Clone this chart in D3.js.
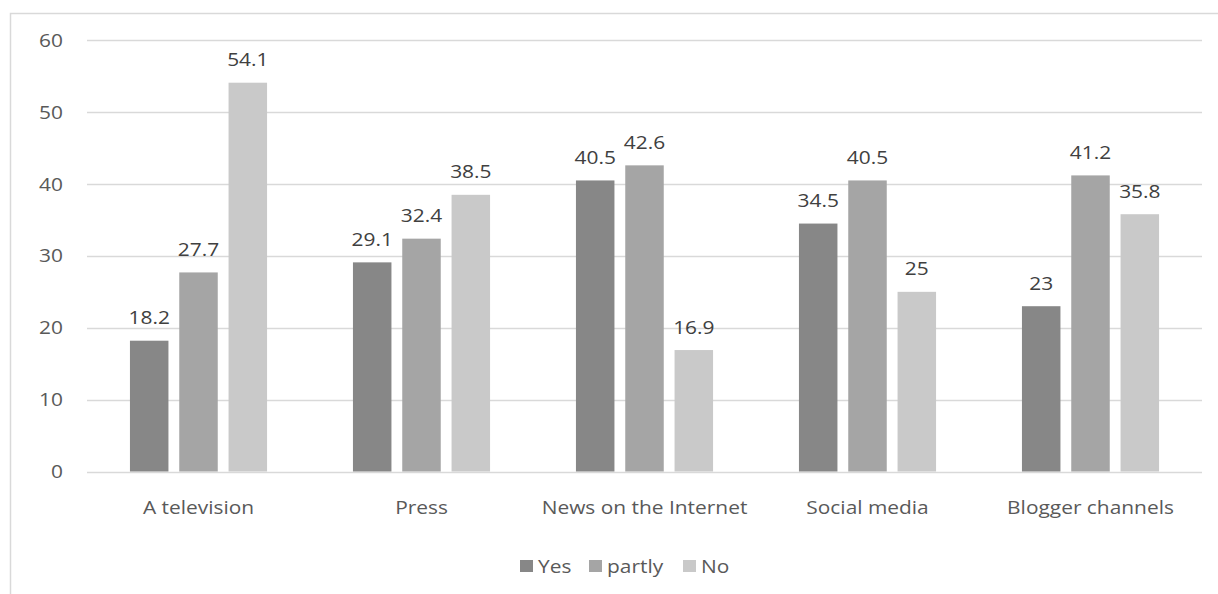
<!DOCTYPE html>
<html>
<head>
<meta charset="utf-8">
<script src="https://cdn.jsdelivr.net/npm/d3@7"></script>
<style>
  html, body { margin: 0; padding: 0; background: #fff; }
  svg { display: block; }
  text { font-family: "Open Sans", "Noto Sans", sans-serif; font-size: 19px; }
</style>
</head>
<body>
<svg id="chart" width="1218" height="594"></svg>
<script>
// Survey answers by information source
const categories = ["A television", "Press", "News on the Internet", "Social media", "Blogger channels"];
const seriesNames = ["Yes", "partly", "No"];
const yesValues = [18.2, 29.1, 40.5, 34.5, 23];
const partlyValues = [27.7, 32.4, 42.6, 40.5, 41.2];
const noValues = [54.1, 38.5, 16.9, 25, 35.8];
const yTicks = [0, 10, 20, 30, 40, 50, 60];
const seriesColors = ["#878787", "#a5a5a5", "#c9c9c9"];

const seriesValues = [yesValues, partlyValues, noValues];
const WIDEN = 1.1; // slightly wider lettering

const svg = d3.select("#chart");

// outer chart frame
svg.append("rect")
  .attr("x", 10.5).attr("y", 13.5)
  .attr("width", 1240).attr("height", 620)
  .attr("fill", "none").attr("stroke", "#d9d9d9").attr("stroke-width", 1.5);

const plot = { left: 87, right: 1202, top: 40.3, bottom: 471.5 };

const x = d3.scaleBand().domain(categories).range([plot.left, plot.right]);
const y = d3.scaleLinear().domain([0, 60]).range([plot.bottom, plot.top]);

// gridlines
svg.append("g").selectAll("line").data(yTicks).join("line")
  .attr("x1", plot.left).attr("x2", plot.right)
  .attr("y1", d => Math.round(y(d)) + 0.5).attr("y2", d => Math.round(y(d)) + 0.5)
  .attr("stroke", "#d9d9d9").attr("stroke-width", 1.3);

// y axis labels
const yAxis = d3.axisLeft(y).tickValues(yTicks).tickSize(0).tickPadding(0);
const yg = svg.append("g").attr("transform", `translate(${plot.left - 24},0)`).call(yAxis);
yg.select(".domain").remove();
yg.selectAll("text")
  .attr("font-size", 19).attr("fill", "#595959")
  .attr("font-family", "'Open Sans', sans-serif")
  .attr("transform", `scale(${WIDEN},1)`);

// x axis labels
const xAxis = d3.axisBottom(x).tickSize(0).tickPadding(0);
const xg = svg.append("g").attr("transform", `translate(0,${plot.bottom + 29})`).call(xAxis);
xg.select(".domain").remove();
xg.selectAll("text")
  .attr("font-size", 19).attr("fill", "#595959")
  .attr("font-family", "'Open Sans', sans-serif")
  .attr("transform", `scale(${WIDEN},1)`);

// bars within each category
const barW = 38.5, gap = 10.8;
const inner = d3.scaleBand().domain(seriesNames)
  .range([-(barW * 1.5 + gap), barW * 1.5 + gap]).paddingInner(gap / (barW + gap));

const groups = svg.append("g").selectAll("g").data(seriesNames).join("g")
  .attr("fill", (d, i) => seriesColors[i]);

groups.each(function (name, si) {
  const g = d3.select(this);
  const vals = seriesValues[si];
  const left = c => x(c) + x.bandwidth() / 2 + inner(name);
  g.selectAll("rect").data(categories).join("rect")
    .attr("x", c => left(c))
    .attr("width", inner.bandwidth())
    .attr("y", (c, i) => y(vals[i]))
    .attr("height", (c, i) => y(0) - y(vals[i]));
  g.selectAll("text").data(categories).join("text")
    .attr("transform", (c, i) =>
      `translate(${left(c) + inner.bandwidth() / 2},${y(vals[i]) - 16.5}) scale(${WIDEN},1)`)
    .attr("text-anchor", "middle")
    .attr("fill", "#404040")
    .text((c, i) => vals[i]);
});

// legend
const legendItems = [
  { name: "Yes", x: 520 },
  { name: "partly", x: 589 },
  { name: "No", x: 683 }
];
const lg = svg.append("g").selectAll("g").data(legendItems).join("g")
  .attr("transform", d => `translate(${d.x},560)`);
lg.append("rect").attr("width", 13).attr("height", 12)
  .attr("fill", (d, i) => seriesColors[i]);
lg.append("text")
  .attr("transform", `translate(18,13) scale(${WIDEN},1)`)
  .attr("fill", "#595959")
  .text(d => d.name);
</script>
</body>
</html>
